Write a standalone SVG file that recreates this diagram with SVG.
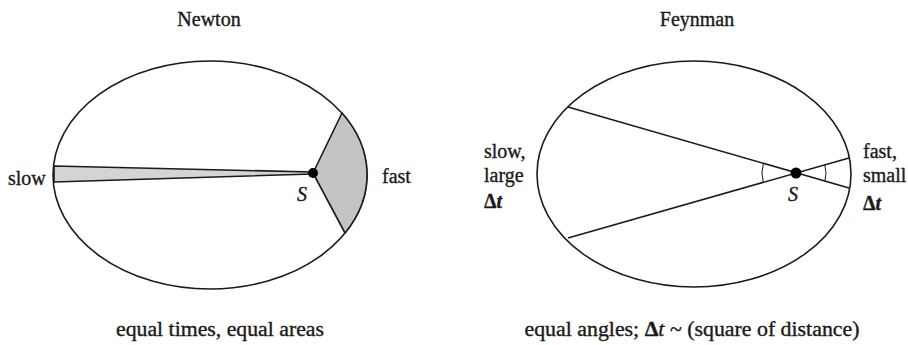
<svg xmlns="http://www.w3.org/2000/svg" width="908" height="345" viewBox="0 0 908 345" font-family="'Liberation Serif', 'Times New Roman', serif">
<style>
text{font-family:'Liberation Serif','Times New Roman',serif;font-size:20px;fill:#1a1a1a;stroke:#1a1a1a;stroke-width:0.35}
.orbit{fill:none;stroke:#1a1a1a;stroke-width:1.6}
.ln{stroke:#1a1a1a;stroke-width:1.6;fill:none}
.thin{stroke:#1a1a1a;stroke-width:1;fill:none}
.sh1{fill:#d4d4d4;stroke:#1a1a1a;stroke-width:1.6;stroke-linejoin:round}
.sh2{fill:#c4c4c4;stroke:#1a1a1a;stroke-width:1.6;stroke-linejoin:round}
.it{font-style:italic}
.mid{text-anchor:middle}
</style>
<rect width="908" height="345" fill="#fff"/>
<g id="newton">
  <text class="mid" x="209" y="26">Newton</text>
  <ellipse class="orbit" cx="210" cy="175" rx="157" ry="114"/>
  <path class="sh1" d="M54,166 L313,172 L313,174 L54,182 Z"/>
  <path class="sh2" d="M313,173 L342,113 A157,114 0 0,1 345,233 Z"/>
  <circle cx="313" cy="173" r="5" fill="#000"/>
  <text x="8" y="185">slow</text>
  <text x="382" y="183">fast</text>
  <text class="it" x="297" y="201">S</text>
  <text class="mid" x="220" y="336" textLength="208" lengthAdjust="spacingAndGlyphs">equal times, equal areas</text>
</g>
<g id="feynman">
  <text class="mid" x="697" y="26">Feynman</text>
  <ellipse class="orbit" cx="694" cy="174" rx="157" ry="113"/>
  <g id="connectors">
    <line class="ln" x1="568" y1="107" x2="849" y2="188"/>
    <line class="ln" x1="568" y1="238" x2="849" y2="158"/>
    <path class="thin" d="M763.3,163.6 A34,34 0 0,0 763.3,182.4"/>
    <path class="thin" d="M824.8,164.7 A30,30 0 0,1 824.8,181.3"/>
  </g>
  <circle cx="796" cy="173" r="5.5" fill="#000"/>
  <text class="it" x="788" y="201">S</text>
  <text x="484" y="158">slow,</text>
  <text x="484" y="182">large</text>
  <text x="484" y="208" font-weight="bold">Δ<tspan class="it">t</tspan></text>
  <text x="863" y="158">fast,</text>
  <text x="863" y="182">small</text>
  <text x="863" y="210" font-weight="bold">Δ<tspan class="it">t</tspan></text>
  <text class="mid" x="692" y="336" textLength="335" lengthAdjust="spacingAndGlyphs">equal angles; <tspan font-weight="bold">Δ</tspan><tspan class="it">t</tspan> ~ (square of distance)</text>
</g>
</svg>
